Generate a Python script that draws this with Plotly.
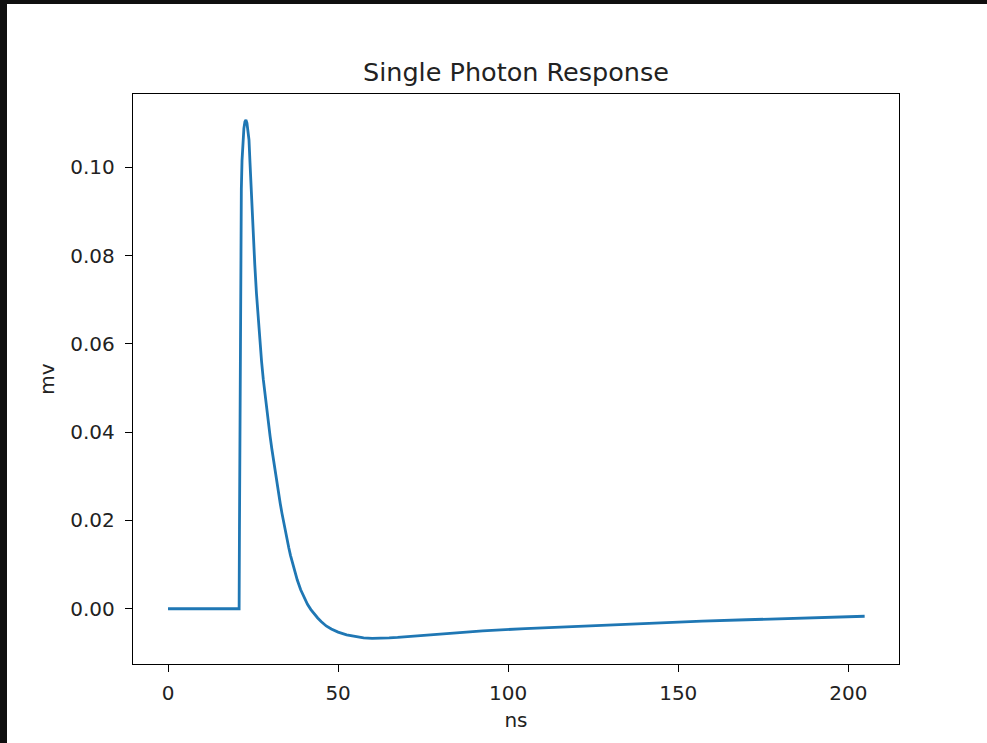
import plotly.graph_objects as go

# Single photon response (time in ns, amplitude in mV)
t_ns = [0.0, 20.9, 21.0, 21.1, 21.2, 21.3, 21.4, 21.55, 21.75, 22.0, 22.3, 22.6,
        22.9, 23.2, 23.5, 23.8, 24.1, 24.5, 25.0, 25.5, 26.0, 26.5, 27.0, 27.5,
        28.0, 28.5, 29.0, 29.5, 30.0, 30.5, 31.0, 31.5, 32.0, 32.5, 33.0, 33.5,
        34.0, 34.5, 35.0, 35.5, 36.0, 37.0, 38.0, 39.0, 40.0, 41.0, 42.0, 43.0,
        44.0, 45.0, 46.5, 48.0, 50.0, 52.5, 55.0, 57.5, 60.0, 62.5, 65.0, 67.5,
        72.0, 77.0, 85.0, 92.5, 105.0, 117.0, 130.0, 141.6, 157.0, 170.0, 182.0,
        194.0, 204.8]
mv = [0.0, 0.0, 0.018, 0.040, 0.058, 0.073, 0.085, 0.095, 0.1015, 0.1058, 0.1088, 0.1103,
      0.1107, 0.1100, 0.1085, 0.1062, 0.1010, 0.0935, 0.0855, 0.0780, 0.0714, 0.0656, 0.0605, 0.0560,
      0.0520, 0.0484, 0.0451, 0.0420, 0.0391, 0.0363, 0.0336, 0.0310, 0.0285, 0.0261, 0.0238, 0.0216,
      0.0195, 0.0175, 0.0156, 0.0138, 0.0121, 0.0091, 0.0065, 0.0043, 0.0025, 0.0010, -0.0002, -0.0012,
      -0.0021, -0.0029, -0.0039, -0.0046, -0.0053, -0.0059, -0.0063, -0.0066, -0.0067, -0.0067, -0.0066, -0.0065,
      -0.0062, -0.0059, -0.0054, -0.0050, -0.0045, -0.0041, -0.0036, -0.0032, -0.0028, -0.0025, -0.0022,
      -0.0020, -0.0017]

x_ticks = [0, 50, 100, 150, 200]
y_ticks = [0.00, 0.02, 0.04, 0.06, 0.08, 0.10]

W, H = 987, 743
ML, MR, MT, MB = 133, 88, 94, 79
PW, PH = W - ML - MR, H - MT - MB

FONT = "DejaVu Sans"
TXT = "#222222"

fig = go.Figure()
fig.add_trace(go.Scatter(
    x=t_ns, y=mv, mode="lines",
    line=dict(color="#1f77b4", width=2.8),
    hoverinfo="skip", showlegend=False,
))

axis_common = dict(
    showline=True, linecolor="black", linewidth=1.4, mirror=True,
    ticks="outside", ticklen=7, tickwidth=1.3, tickcolor="black",
    showgrid=False, zeroline=False,
    tickfont=dict(family=FONT, size=20, color=TXT),
)

fig.update_layout(
    width=W, height=H,
    margin=dict(l=ML, r=MR, t=MT, b=MB),
    paper_bgcolor="white", plot_bgcolor="white",
    font=dict(family=FONT, color=TXT),
    xaxis=dict(range=[-10.3, 214.9], tickvals=x_ticks,
               ticktext=[str(v) for v in x_ticks],
               title=dict(text="ns", font=dict(family=FONT, size=20, color=TXT), standoff=8),
               ticklabelstandoff=4,
               **axis_common),
    yaxis=dict(range=[-0.01252, 0.1166], tickvals=y_ticks,
               ticktext=[f"{v:.2f}" for v in y_ticks],
               title=dict(text="mv", font=dict(family=FONT, size=20, color=TXT), standoff=10),
               ticklabelstandoff=6,
               **axis_common),
    title=dict(text="Single Photon Response", x=0.5 * (ML + (W - MR)) / W, xanchor="center",
               y=1 - 72 / H, yanchor="middle", yref="container",
               font=dict(family=FONT, size=25.5, color=TXT)),
)

# dark screenshot frame on top and left edges
dark = "#0f0f0f"
fig.add_shape(type="rect", xref="paper", yref="paper",
              x0=(0 - ML) / PW, x1=(W - ML) / PW,
              y0=(H - MB - 4) / PH, y1=(H - MB) / PH,
              fillcolor=dark, line=dict(width=0), layer="above")
fig.add_shape(type="rect", xref="paper", yref="paper",
              x0=(0 - ML) / PW, x1=(7 - ML) / PW,
              y0=(0 - MB) / PH, y1=(H - MB) / PH,
              fillcolor=dark, line=dict(width=0), layer="above")

fig.write_html("out.html")
